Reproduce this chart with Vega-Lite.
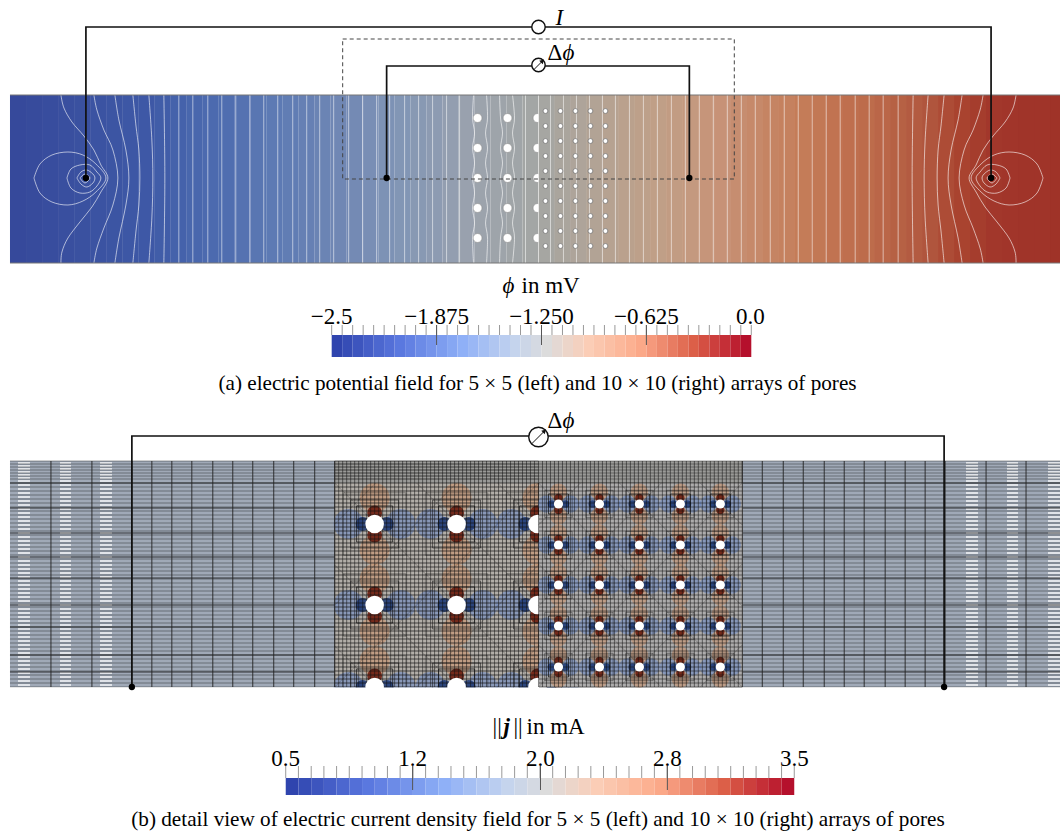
{"$schema":"https://vega.github.io/schema/vega-lite/v6.json","width":1061,"height":834,"padding":0,"autosize":{"type":"fit","contains":"padding"},"background":"white","config":{"view":{"stroke":null},"axis":{"disable":true}},
"datasets":{
"strips":[{"x":10,"x2":27,"p":-2.48},{"x":27,"x2":43,"p":-2.44},{"x":43,"x2":59,"p":-2.4},{"x":59,"x2":75,"p":-2.37},{"x":75,"x2":91,"p":-2.33},{"x":91,"x2":107,"p":-2.29},{"x":107,"x2":123,"p":-2.25},{"x":123,"x2":139,"p":-2.21},{"x":139,"x2":155,"p":-2.18},{"x":155,"x2":171,"p":-2.14},{"x":171,"x2":187,"p":-2.1},{"x":187,"x2":203,"p":-2.06},{"x":203,"x2":219,"p":-2.03},{"x":219,"x2":235,"p":-1.99},{"x":235,"x2":251,"p":-1.95},{"x":251,"x2":267,"p":-1.91},{"x":267,"x2":283,"p":-1.87},{"x":283,"x2":299,"p":-1.84},{"x":299,"x2":315,"p":-1.8},{"x":315,"x2":331,"p":-1.76},{"x":331,"x2":347,"p":-1.72},{"x":347,"x2":363,"p":-1.69},{"x":363,"x2":379,"p":-1.65},{"x":379,"x2":395,"p":-1.61},{"x":395,"x2":411,"p":-1.57},{"x":411,"x2":427,"p":-1.53},{"x":427,"x2":443,"p":-1.5},{"x":443,"x2":459,"p":-1.46},{"x":459,"x2":475,"p":-1.42},{"x":475,"x2":491,"p":-1.38},{"x":491,"x2":507,"p":-1.35},{"x":507,"x2":523,"p":-1.31},{"x":523,"x2":539,"p":-1.27},{"x":539,"x2":555,"p":-1.23},{"x":555,"x2":571,"p":-1.19},{"x":571,"x2":587,"p":-1.16},{"x":587,"x2":603,"p":-1.12},{"x":603,"x2":619,"p":-1.08},{"x":619,"x2":635,"p":-1.04},{"x":635,"x2":651,"p":-1},{"x":651,"x2":667,"p":-0.97},{"x":667,"x2":683,"p":-0.93},{"x":683,"x2":699,"p":-0.89},{"x":699,"x2":715,"p":-0.85},{"x":715,"x2":731,"p":-0.82},{"x":731,"x2":747,"p":-0.78},{"x":747,"x2":763,"p":-0.74},{"x":763,"x2":779,"p":-0.7},{"x":779,"x2":795,"p":-0.67},{"x":795,"x2":811,"p":-0.63},{"x":811,"x2":827,"p":-0.59},{"x":827,"x2":843,"p":-0.55},{"x":843,"x2":859,"p":-0.51},{"x":859,"x2":875,"p":-0.48},{"x":875,"x2":891,"p":-0.44},{"x":891,"x2":907,"p":-0.4},{"x":907,"x2":923,"p":-0.36},{"x":923,"x2":939,"p":-0.33},{"x":939,"x2":955,"p":-0.29},{"x":955,"x2":971,"p":-0.25},{"x":971,"x2":987,"p":-0.21},{"x":987,"x2":1003,"p":-0.17},{"x":1003,"x2":1019,"p":-0.14},{"x":1019,"x2":1035,"p":-0.1},{"x":1035,"x2":1051,"p":-0.06},{"x":1051,"x2":1061,"p":-0.02}],
"contours":[{"x":179},{"x":193},{"x":208},{"x":222},{"x":236},{"x":250},{"x":264},{"x":278},{"x":293},{"x":307},{"x":320},{"x":334},{"x":349},{"x":363},{"x":377},{"x":390},{"x":405},{"x":419},{"x":433},{"x":447},{"x":460},{"x":526},{"x":539},{"x":551},{"x":564},{"x":577},{"x":590},{"x":603},{"x":616},{"x":630},{"x":644},{"x":658},{"x":672},{"x":686},{"x":700},{"x":714},{"x":728},{"x":742},{"x":756},{"x":771},{"x":785},{"x":799},{"x":813},{"x":827},{"x":841},{"x":856},{"x":870},{"x":884},{"x":899}],
"curved":[
{"k":"a","x":61,"y":95},{"k":"a","x":64,"y":108},{"k":"a","x":72,"y":122},{"k":"a","x":84,"y":136},{"k":"a","x":94,"y":150},{"k":"a","x":101,"y":165},{"k":"a","x":108,"y":178},{"k":"a","x":101,"y":192},{"k":"a","x":92,"y":207},{"k":"a","x":80,"y":222},{"k":"a","x":68,"y":238},{"k":"a","x":62,"y":252},{"k":"a","x":61,"y":263},
{"k":"b","x":94,"y":95},{"k":"b","x":97,"y":110},{"k":"b","x":104,"y":130},{"k":"b","x":113,"y":150},{"k":"b","x":118,"y":178},{"k":"b","x":113,"y":205},{"k":"b","x":104,"y":228},{"k":"b","x":97,"y":248},{"k":"b","x":94,"y":263},
{"k":"c","x":115,"y":95},{"k":"c","x":119,"y":120},{"k":"c","x":126,"y":150},{"k":"c","x":129,"y":178},{"k":"c","x":126,"y":205},{"k":"c","x":119,"y":238},{"k":"c","x":115,"y":263},
{"k":"d","x":133,"y":95},{"k":"d","x":136,"y":125},{"k":"d","x":139,"y":150},{"k":"d","x":140,"y":178},{"k":"d","x":139,"y":205},{"k":"d","x":136,"y":232},{"k":"d","x":133,"y":263},
{"k":"e","x":149,"y":95},{"k":"e","x":152,"y":140},{"k":"e","x":153,"y":178},{"k":"e","x":152,"y":218},{"k":"e","x":149,"y":263},
{"k":"f","x":164,"y":95},{"k":"f","x":165,"y":178},{"k":"f","x":164,"y":263},
{"k":"g","x":34,"y":178},{"k":"g","x":40,"y":164},{"k":"g","x":52,"y":155},{"k":"g","x":68,"y":152},{"k":"g","x":83,"y":155},{"k":"g","x":96,"y":164},{"k":"g","x":106,"y":178},{"k":"g","x":96,"y":192},{"k":"g","x":83,"y":201},{"k":"g","x":68,"y":205},{"k":"g","x":52,"y":202},{"k":"g","x":40,"y":193},{"k":"g","x":34,"y":178},
{"k":"h","x":67,"y":178},{"k":"h","x":71,"y":169},{"k":"h","x":80,"y":165},{"k":"h","x":90,"y":165},{"k":"h","x":97,"y":172},{"k":"h","x":101,"y":178},{"k":"h","x":97,"y":186},{"k":"h","x":90,"y":192},{"k":"h","x":80,"y":193},{"k":"h","x":71,"y":188},{"k":"h","x":67,"y":178},
{"k":"i","x":77,"y":178},{"k":"i","x":81,"y":172},{"k":"i","x":87,"y":170},{"k":"i","x":93,"y":174},{"k":"i","x":95,"y":178},{"k":"i","x":93,"y":183},{"k":"i","x":87,"y":187},{"k":"i","x":81,"y":184},{"k":"i","x":77,"y":178},
{"k":"j","x":80,"y":178},{"k":"j","x":85,"y":174},{"k":"j","x":90,"y":178},{"k":"j","x":85,"y":183},{"k":"j","x":80,"y":178},
{"k":"A","x":1017,"y":95},{"k":"A","x":1014,"y":108},{"k":"A","x":1006,"y":122},{"k":"A","x":994,"y":136},{"k":"A","x":984,"y":150},{"k":"A","x":977,"y":165},{"k":"A","x":970,"y":178},{"k":"A","x":977,"y":192},{"k":"A","x":986,"y":207},{"k":"A","x":998,"y":222},{"k":"A","x":1010,"y":238},{"k":"A","x":1016,"y":252},{"k":"A","x":1017,"y":263},
{"k":"B","x":984,"y":95},{"k":"B","x":981,"y":110},{"k":"B","x":974,"y":130},{"k":"B","x":965,"y":150},{"k":"B","x":960,"y":178},{"k":"B","x":965,"y":205},{"k":"B","x":974,"y":228},{"k":"B","x":981,"y":248},{"k":"B","x":984,"y":263},
{"k":"C","x":963,"y":95},{"k":"C","x":959,"y":120},{"k":"C","x":952,"y":150},{"k":"C","x":949,"y":178},{"k":"C","x":952,"y":205},{"k":"C","x":959,"y":238},{"k":"C","x":963,"y":263},
{"k":"D","x":945,"y":95},{"k":"D","x":942,"y":125},{"k":"D","x":939,"y":150},{"k":"D","x":938,"y":178},{"k":"D","x":939,"y":205},{"k":"D","x":942,"y":232},{"k":"D","x":945,"y":263},
{"k":"E","x":929,"y":95},{"k":"E","x":926,"y":140},{"k":"E","x":925,"y":178},{"k":"E","x":926,"y":218},{"k":"E","x":929,"y":263},
{"k":"F","x":914,"y":95},{"k":"F","x":913,"y":178},{"k":"F","x":914,"y":263},
{"k":"G","x":1044,"y":178},{"k":"G","x":1038,"y":164},{"k":"G","x":1026,"y":155},{"k":"G","x":1010,"y":152},{"k":"G","x":995,"y":155},{"k":"G","x":982,"y":164},{"k":"G","x":972,"y":178},{"k":"G","x":982,"y":192},{"k":"G","x":995,"y":201},{"k":"G","x":1010,"y":205},{"k":"G","x":1026,"y":202},{"k":"G","x":1038,"y":193},{"k":"G","x":1044,"y":178},
{"k":"H","x":1011,"y":178},{"k":"H","x":1007,"y":169},{"k":"H","x":998,"y":165},{"k":"H","x":988,"y":165},{"k":"H","x":981,"y":172},{"k":"H","x":977,"y":178},{"k":"H","x":981,"y":186},{"k":"H","x":988,"y":192},{"k":"H","x":998,"y":193},{"k":"H","x":1007,"y":188},{"k":"H","x":1011,"y":178},
{"k":"I","x":1001,"y":178},{"k":"I","x":997,"y":172},{"k":"I","x":991,"y":170},{"k":"I","x":985,"y":174},{"k":"I","x":983,"y":178},{"k":"I","x":985,"y":183},{"k":"I","x":991,"y":187},{"k":"I","x":997,"y":184},{"k":"I","x":1001,"y":178},
{"k":"J","x":998,"y":178},{"k":"J","x":993,"y":174},{"k":"J","x":988,"y":178},{"k":"J","x":993,"y":183},{"k":"J","x":998,"y":178},
{"k":"m","x":474,"y":95},{"k":"m","x":473,"y":118},{"k":"m","x":475,"y":133},{"k":"m","x":473,"y":148},{"k":"m","x":475,"y":163},{"k":"m","x":473,"y":178},{"k":"m","x":475,"y":193},{"k":"m","x":473,"y":208},{"k":"m","x":475,"y":223},{"k":"m","x":473,"y":238},{"k":"m","x":474,"y":263},
{"k":"n","x":487,"y":95},{"k":"n","x":488,"y":118},{"k":"n","x":486,"y":133},{"k":"n","x":488,"y":148},{"k":"n","x":486,"y":163},{"k":"n","x":488,"y":178},{"k":"n","x":486,"y":193},{"k":"n","x":488,"y":208},{"k":"n","x":486,"y":223},{"k":"n","x":488,"y":238},{"k":"n","x":487,"y":263},
{"k":"o","x":500,"y":95},{"k":"o","x":501,"y":118},{"k":"o","x":503,"y":133},{"k":"o","x":501,"y":148},{"k":"o","x":503,"y":163},{"k":"o","x":501,"y":178},{"k":"o","x":503,"y":193},{"k":"o","x":501,"y":208},{"k":"o","x":503,"y":223},{"k":"o","x":501,"y":238},{"k":"o","x":500,"y":263},
{"k":"q","x":513,"y":95},{"k":"q","x":515,"y":118},{"k":"q","x":513,"y":133},{"k":"q","x":515,"y":148},{"k":"q","x":513,"y":163},{"k":"q","x":515,"y":178},{"k":"q","x":513,"y":193},{"k":"q","x":515,"y":208},{"k":"q","x":513,"y":223},{"k":"q","x":515,"y":238},{"k":"q","x":513,"y":263}],
"poresA":[{"x":478,"y":118},{"x":478,"y":148},{"x":478,"y":178},{"x":478,"y":208},{"x":478,"y":238},{"x":508,"y":118},{"x":508,"y":148},{"x":508,"y":178},{"x":508,"y":208},{"x":508,"y":238},{"x":538,"y":118},{"x":538,"y":148},{"x":538,"y":178},{"x":538,"y":208},{"x":538,"y":238}],
"poresa":[{"x":546,"y":111},{"x":561,"y":111},{"x":576,"y":111},{"x":591,"y":111},{"x":606,"y":111},{"x":546,"y":126},{"x":561,"y":126},{"x":576,"y":126},{"x":591,"y":126},{"x":606,"y":126},{"x":546,"y":141},{"x":561,"y":141},{"x":576,"y":141},{"x":591,"y":141},{"x":606,"y":141},{"x":546,"y":156},{"x":561,"y":156},{"x":576,"y":156},{"x":591,"y":156},{"x":606,"y":156},{"x":546,"y":171},{"x":561,"y":171},{"x":576,"y":171},{"x":591,"y":171},{"x":606,"y":171},{"x":546,"y":186},{"x":561,"y":186},{"x":576,"y":186},{"x":591,"y":186},{"x":606,"y":186},{"x":546,"y":201},{"x":561,"y":201},{"x":576,"y":201},{"x":591,"y":201},{"x":606,"y":201},{"x":546,"y":216},{"x":561,"y":216},{"x":576,"y":216},{"x":591,"y":216},{"x":606,"y":216},{"x":546,"y":231},{"x":561,"y":231},{"x":576,"y":231},{"x":591,"y":231},{"x":606,"y":231},{"x":546,"y":246},{"x":561,"y":246},{"x":576,"y":246},{"x":591,"y":246},{"x":606,"y":246}],
"wires":[{"k":"I","x":86,"y":178},{"k":"I","x":86,"y":27},{"k":"I","x":992,"y":27},{"k":"I","x":992,"y":178},{"k":"A","x":387,"y":178},{"k":"A","x":387,"y":66},{"k":"A","x":690,"y":66},{"k":"A","x":690,"y":178},{"k":"B","x":132,"y":687},{"k":"B","x":132,"y":436},{"k":"B","x":945,"y":436},{"k":"B","x":945,"y":687}],
"poresB":[{"x":375,"y":524},{"x":457,"y":524},{"x":538,"y":524},{"x":375,"y":605},{"x":457,"y":605},{"x":538,"y":605},{"x":375,"y":687},{"x":457,"y":687},{"x":538,"y":687}],
"poresb":[{"x":559,"y":504},{"x":600,"y":504},{"x":640,"y":504},{"x":681,"y":504},{"x":721,"y":504},{"x":559,"y":545},{"x":600,"y":545},{"x":640,"y":545},{"x":681,"y":545},{"x":721,"y":545},{"x":559,"y":585},{"x":600,"y":585},{"x":640,"y":585},{"x":681,"y":585},{"x":721,"y":585},{"x":559,"y":626},{"x":600,"y":626},{"x":640,"y":626},{"x":681,"y":626},{"x":721,"y":626},{"x":559,"y":667},{"x":600,"y":667},{"x":640,"y":667},{"x":681,"y":667},{"x":721,"y":667}],
"hy":[{"y":461},{"y":464},{"y":467},{"y":470},{"y":473},{"y":476},{"y":479},{"y":483},{"y":487},{"y":491},{"y":495},{"y":499},{"y":503},{"y":507},{"y":511},{"y":515},{"y":519},{"y":523},{"y":527},{"y":531},{"y":535},{"y":539},{"y":543},{"y":547},{"y":551},{"y":555},{"y":559},{"y":563},{"y":567},{"y":571},{"y":575},{"y":579},{"y":583},{"y":587},{"y":591},{"y":595},{"y":599},{"y":603},{"y":607},{"y":611},{"y":615},{"y":619},{"y":623},{"y":627},{"y":631},{"y":635},{"y":639},{"y":643},{"y":647},{"y":651},{"y":655},{"y":659},{"y":663},{"y":667},{"y":671},{"y":675},{"y":679},{"y":683},{"y":687}],
"hdark":[{"y":483},{"y":508},{"y":533},{"y":557},{"y":578},{"y":605},{"y":627},{"y":655},{"y":672}],
"vx":[{"x":51},{"x":92},{"x":132},{"x":152},{"x":172},{"x":192},{"x":213},{"x":233},{"x":253},{"x":274},{"x":294},{"x":315},{"x":335},{"x":743},{"x":763},{"x":784},{"x":804},{"x":825},{"x":845},{"x":865},{"x":886},{"x":906},{"x":926},{"x":946},{"x":987},{"x":1027}],
"gx":[{"x":335},{"x":339},{"x":343},{"x":347},{"x":351},{"x":355},{"x":359},{"x":363},{"x":367},{"x":371},{"x":375},{"x":379},{"x":383},{"x":387},{"x":391},{"x":395},{"x":399},{"x":403},{"x":407},{"x":411},{"x":415},{"x":419},{"x":423},{"x":427},{"x":431},{"x":435},{"x":439},{"x":443},{"x":447},{"x":451},{"x":455},{"x":459},{"x":463},{"x":467},{"x":471},{"x":475},{"x":479},{"x":483},{"x":487},{"x":491},{"x":495},{"x":499},{"x":503},{"x":507},{"x":511},{"x":515},{"x":519},{"x":523},{"x":527},{"x":531},{"x":535},{"x":539},{"x":543},{"x":547},{"x":551},{"x":555},{"x":559},{"x":563},{"x":567},{"x":571},{"x":575},{"x":579},{"x":583},{"x":587},{"x":591},{"x":595},{"x":599},{"x":603},{"x":607},{"x":611},{"x":615},{"x":619},{"x":623},{"x":627},{"x":631},{"x":635},{"x":639},{"x":643},{"x":647},{"x":651},{"x":655},{"x":659},{"x":663},{"x":667},{"x":671},{"x":675},{"x":679},{"x":683},{"x":687},{"x":691},{"x":695},{"x":699},{"x":703},{"x":707},{"x":711},{"x":715},{"x":719},{"x":723},{"x":727},{"x":731},{"x":735},{"x":739},{"x":743}],
"diagB":[{"k":"d1","x":335,"y":483},{"k":"d1","x":539,"y":687},{"k":"d2","x":417,"y":483},{"k":"d2","x":539,"y":605},{"k":"d3","x":498,"y":483},{"k":"d3","x":539,"y":524},{"k":"d4","x":335,"y":565},{"k":"d4","x":457,"y":687},{"k":"d5","x":335,"y":646},{"k":"d5","x":376,"y":687},{"k":"e1","x":539,"y":483},{"k":"e1","x":335,"y":687},{"k":"e2","x":457,"y":483},{"k":"e2","x":335,"y":605},{"k":"e3","x":376,"y":483},{"k":"e3","x":335,"y":524},{"k":"e4","x":539,"y":565},{"k":"e4","x":417,"y":687},{"k":"e5","x":539,"y":646},{"k":"e5","x":498,"y":687}],
"diagb":[{"k":"d1","x":539,"y":483},{"k":"d1","x":743,"y":687},{"k":"d2","x":620,"y":483},{"k":"d2","x":743,"y":606},{"k":"d3","x":701,"y":483},{"k":"d3","x":743,"y":525},{"k":"d4","x":539,"y":564},{"k":"d4","x":662,"y":687},{"k":"d5","x":539,"y":645},{"k":"d5","x":581,"y":687},{"k":"e1","x":743,"y":483},{"k":"e1","x":539,"y":687},{"k":"e2","x":662,"y":483},{"k":"e2","x":539,"y":606},{"k":"e3","x":581,"y":483},{"k":"e3","x":539,"y":525},{"k":"e4","x":743,"y":564},{"k":"e4","x":620,"y":687},{"k":"e5","x":743,"y":645},{"k":"e5","x":701,"y":687}],
"bar":[{"a0":332,"a1":342.5,"b0":286,"b1":298.7,"v":0},{"a0":342.5,"a1":353,"b0":298.7,"b1":311.5,"v":0.025},{"a0":353,"a1":363.5,"b0":311.5,"b1":324.2,"v":0.05},{"a0":363.5,"a1":374,"b0":324.2,"b1":336.9,"v":0.075},{"a0":374,"a1":384.5,"b0":336.9,"b1":349.6,"v":0.1},{"a0":384.5,"a1":395,"b0":349.6,"b1":362.4,"v":0.125},{"a0":395,"a1":405.5,"b0":362.4,"b1":375.1,"v":0.15},{"a0":405.5,"a1":416,"b0":375.1,"b1":387.8,"v":0.175},{"a0":416,"a1":426.5,"b0":387.8,"b1":400.5,"v":0.2},{"a0":426.5,"a1":437,"b0":400.5,"b1":413.3,"v":0.225},{"a0":437,"a1":447.5,"b0":413.3,"b1":426,"v":0.25},{"a0":447.5,"a1":458,"b0":426,"b1":438.7,"v":0.275},{"a0":458,"a1":468.5,"b0":438.7,"b1":451.4,"v":0.3},{"a0":468.5,"a1":479,"b0":451.4,"b1":464.2,"v":0.325},{"a0":479,"a1":489.5,"b0":464.2,"b1":476.9,"v":0.35},{"a0":489.5,"a1":500,"b0":476.9,"b1":489.6,"v":0.375},{"a0":500,"a1":510.5,"b0":489.6,"b1":502.3,"v":0.4},{"a0":510.5,"a1":521,"b0":502.3,"b1":515.1,"v":0.425},{"a0":521,"a1":531.5,"b0":515.1,"b1":527.8,"v":0.45},{"a0":531.5,"a1":542,"b0":527.8,"b1":540.5,"v":0.475},{"a0":542,"a1":552.5,"b0":540.5,"b1":553.2,"v":0.5},{"a0":552.5,"a1":563,"b0":553.2,"b1":566,"v":0.525},{"a0":563,"a1":573.5,"b0":566,"b1":578.7,"v":0.55},{"a0":573.5,"a1":584,"b0":578.7,"b1":591.4,"v":0.575},{"a0":584,"a1":594.5,"b0":591.4,"b1":604.1,"v":0.6},{"a0":594.5,"a1":605,"b0":604.1,"b1":616.9,"v":0.625},{"a0":605,"a1":615.5,"b0":616.9,"b1":629.6,"v":0.65},{"a0":615.5,"a1":626,"b0":629.6,"b1":642.3,"v":0.675},{"a0":626,"a1":636.5,"b0":642.3,"b1":655,"v":0.7},{"a0":636.5,"a1":647,"b0":655,"b1":667.8,"v":0.725},{"a0":647,"a1":657.5,"b0":667.8,"b1":680.5,"v":0.75},{"a0":657.5,"a1":668,"b0":680.5,"b1":693.2,"v":0.775},{"a0":668,"a1":678.5,"b0":693.2,"b1":705.9,"v":0.8},{"a0":678.5,"a1":689,"b0":705.9,"b1":718.7,"v":0.825},{"a0":689,"a1":699.5,"b0":718.7,"b1":731.4,"v":0.85},{"a0":699.5,"a1":710,"b0":731.4,"b1":744.1,"v":0.875},{"a0":710,"a1":720.5,"b0":744.1,"b1":756.8,"v":0.9},{"a0":720.5,"a1":731,"b0":756.8,"b1":769.6,"v":0.925},{"a0":731,"a1":741.5,"b0":769.6,"b1":782.3,"v":0.95},{"a0":741.5,"a1":752,"b0":782.3,"b1":795,"v":0.975},{"a0":752,"a1":752,"b0":795,"b1":795,"v":1}]
},
"layer":[
{"data":{"name":"strips"},"mark":{"type":"rect"},"encoding":{"x":{"field":"x","type":"quantitative","scale":{"domain":[0,1061],"nice":false,"zero":false}},"x2":{"field":"x2"},"y":{"datum":95,"scale":{"domain":[834,0],"nice":false,"zero":false}},"y2":{"datum":263},"color":{"field":"p","type":"quantitative","legend":null,"scale":{"interpolate":"rgb","domain":[-2.5,-2.17,-2.05,-1.86,-1.72,-1.58,-1.41,-1.25,-1.11,-0.96,-0.82,-0.63,-0.49,-0.35,-0.25,-0.16,-0.02],"range":["#35489a","#3e59a6","#4a68ae","#5e7bb4","#7087b4","#8195b5","#9aa2ae","#a4a6a4","#b3a394","#c19f86","#c79277","#c47c58","#be6d4c","#b25a40","#a9432f","#a1352a","#9f3328"]}}}},
{"data":{"name":"poresA"},"mark":{"type":"circle","size":80,"color":"white","opacity":1,"stroke":"#888","strokeWidth":0.6},"encoding":{"x":{"field":"x","type":"quantitative"},"y":{"field":"y","type":"quantitative"}}},
{"data":{"name":"strips"},"transform":[{"filter":"datum.x>=539"}],"mark":{"type":"rect"},"encoding":{"x":{"field":"x","type":"quantitative"},"x2":{"field":"x2"},"y":{"datum":95},"y2":{"datum":263},"color":{"field":"p","type":"quantitative","legend":null,"scale":{"interpolate":"rgb","domain":[-2.5,-2.17,-2.05,-1.86,-1.72,-1.58,-1.41,-1.25,-1.11,-0.96,-0.82,-0.63,-0.49,-0.35,-0.25,-0.16,-0.02],"range":["#35489a","#3e59a6","#4a68ae","#5e7bb4","#7087b4","#8195b5","#9aa2ae","#a4a6a4","#b3a394","#c19f86","#c79277","#c47c58","#be6d4c","#b25a40","#a9432f","#a1352a","#9f3328"]}}}},
{"data":{"name":"contours"},"mark":{"type":"rule","stroke":"#ffffff","strokeWidth":1,"strokeOpacity":0.55},"encoding":{"x":{"field":"x","type":"quantitative"},"y":{"datum":95},"y2":{"datum":263}}},
{"data":{"name":"curved"},"transform":[{"window":[{"op":"row_number","as":"i"}]}],"mark":{"type":"line","interpolate":"cardinal","stroke":"#ffffff","strokeWidth":1,"strokeOpacity":0.6},"encoding":{"x":{"field":"x","type":"quantitative"},"y":{"field":"y","type":"quantitative"},"detail":{"field":"k"},"order":{"field":"i","type":"quantitative"}}},
{"data":{"name":"poresa"},"mark":{"type":"circle","size":24,"color":"white","opacity":1,"stroke":"#777","strokeWidth":0.8},"encoding":{"x":{"field":"x","type":"quantitative"},"y":{"field":"y","type":"quantitative"}}},
{"data":{"values":[{"y":95},{"y":263}]},"mark":{"type":"rule","stroke":"#777","strokeWidth":1},"encoding":{"y":{"field":"y","type":"quantitative"},"x":{"datum":10},"x2":{"datum":1061}}},
{"data":{"values":[{"k":"r","x":343,"y":39},{"k":"r","x":735,"y":39},{"k":"r","x":735,"y":179},{"k":"r","x":343,"y":179},{"k":"r","x":343,"y":39}]},"transform":[{"window":[{"op":"row_number","as":"i"}]}],"mark":{"type":"line","stroke":"#444","strokeWidth":1,"strokeDash":[4,3]},"encoding":{"x":{"field":"x","type":"quantitative"},"y":{"field":"y","type":"quantitative"},"detail":{"field":"k"},"order":{"field":"i","type":"quantitative"}}},

{"data":{"values":[{"x":10,"x2":335},{"x":743,"x2":1061}]},"mark":{"type":"rect","color":"#a0a9b7"},"encoding":{"x":{"field":"x","type":"quantitative"},"x2":{"field":"x2"},"y":{"datum":461},"y2":{"datum":687}}},
{"data":{"values":[{"x":335,"x2":743}]},"mark":{"type":"rect","color":"#9a9a98"},"encoding":{"x":{"field":"x","type":"quantitative"},"x2":{"field":"x2"},"y":{"datum":461},"y2":{"datum":483}}},
{"data":{"values":[{"x":335,"x2":540}]},"mark":{"type":"rect","color":"#b2aea8"},"encoding":{"x":{"field":"x","type":"quantitative"},"x2":{"field":"x2"},"y":{"datum":483},"y2":{"datum":687}}},
{"data":{"name":"poresB"},"mark":{"type":"circle","size":900,"color":"#d08a58","opacity":0.45,"yOffset":-26},"encoding":{"x":{"field":"x","type":"quantitative"},"y":{"field":"y","type":"quantitative"}}},
{"data":{"name":"poresB"},"mark":{"type":"circle","size":900,"color":"#d08a58","opacity":0.45,"yOffset":26},"encoding":{"x":{"field":"x","type":"quantitative"},"y":{"field":"y","type":"quantitative"}}},
{"data":{"name":"poresB"},"mark":{"type":"circle","size":900,"color":"#5f82c8","opacity":0.5,"xOffset":-26},"encoding":{"x":{"field":"x","type":"quantitative"},"y":{"field":"y","type":"quantitative"}}},
{"data":{"name":"poresB"},"mark":{"type":"circle","size":900,"color":"#5f82c8","opacity":0.5,"xOffset":26},"encoding":{"x":{"field":"x","type":"quantitative"},"y":{"field":"y","type":"quantitative"}}},
{"data":{"name":"poresB"},"mark":{"type":"circle","size":200,"color":"#13306e","opacity":0.8,"xOffset":-12},"encoding":{"x":{"field":"x","type":"quantitative"},"y":{"field":"y","type":"quantitative"}}},
{"data":{"name":"poresB"},"mark":{"type":"circle","size":200,"color":"#13306e","opacity":0.8,"xOffset":12},"encoding":{"x":{"field":"x","type":"quantitative"},"y":{"field":"y","type":"quantitative"}}},
{"data":{"name":"poresB"},"mark":{"type":"circle","size":220,"color":"#6b1d0e","opacity":0.9,"yOffset":-11},"encoding":{"x":{"field":"x","type":"quantitative"},"y":{"field":"y","type":"quantitative"}}},
{"data":{"name":"poresB"},"mark":{"type":"circle","size":220,"color":"#6b1d0e","opacity":0.9,"yOffset":11},"encoding":{"x":{"field":"x","type":"quantitative"},"y":{"field":"y","type":"quantitative"}}},
{"data":{"name":"gx"},"transform":[{"filter":"datum.x<=539"}],"mark":{"type":"rule","stroke":"#111","strokeWidth":0.7,"strokeOpacity":0.75},"encoding":{"x":{"field":"x","type":"quantitative"},"y":{"datum":483},"y2":{"datum":687}}},
{"data":{"name":"gx"},"mark":{"type":"rule","stroke":"#1a1a1a","strokeWidth":0.7,"strokeOpacity":0.8},"encoding":{"x":{"field":"x","type":"quantitative"},"y":{"datum":461},"y2":{"datum":483}}},
{"data":{"name":"hy"},"mark":{"type":"rule","stroke":"#ffffff","strokeWidth":1.3,"strokeOpacity":0.9,"strokeDash":[0,8,12,30,11,29,12,854,12,29,11,30,12,100],"yOffset":2},"encoding":{"y":{"field":"y","type":"quantitative"},"x":{"datum":10},"x2":{"datum":1061}}},
{"data":{"name":"hy"},"mark":{"type":"rule","stroke":"#1a1a1a","strokeWidth":0.7,"strokeOpacity":0.6},"encoding":{"y":{"field":"y","type":"quantitative"},"x":{"datum":10},"x2":{"datum":1061}}},
{"data":{"name":"hy"},"mark":{"type":"rule","stroke":"#111","strokeWidth":0.7,"strokeOpacity":0.5},"encoding":{"y":{"field":"y","type":"quantitative"},"x":{"datum":335},"x2":{"datum":539}}},
{"data":{"name":"hdark"},"mark":{"type":"rule","stroke":"#111","strokeWidth":0.8},"encoding":{"y":{"field":"y","type":"quantitative"},"x":{"datum":10},"x2":{"datum":335}}},
{"data":{"name":"hdark"},"mark":{"type":"rule","stroke":"#111","strokeWidth":0.8},"encoding":{"y":{"field":"y","type":"quantitative"},"x":{"datum":743},"x2":{"datum":1061}}},
{"data":{"name":"vx"},"mark":{"type":"rule","stroke":"#222","strokeWidth":0.9},"encoding":{"x":{"field":"x","type":"quantitative"},"y":{"datum":461},"y2":{"datum":687}}},
{"data":{"name":"diagB"},"mark":{"type":"line","stroke":"#111","strokeWidth":0.8,"strokeOpacity":0.3},"encoding":{"x":{"field":"x","type":"quantitative"},"y":{"field":"y","type":"quantitative"},"detail":{"field":"k"}}},
{"data":{"name":"poresB"},"mark":{"type":"square","size":1300,"filled":false,"stroke":"#111","strokeWidth":0.8,"opacity":0.9},"encoding":{"x":{"field":"x","type":"quantitative"},"y":{"field":"y","type":"quantitative"}}},
{"data":{"name":"poresB"},"mark":{"type":"square","size":2300,"filled":false,"stroke":"#111","strokeWidth":0.8,"opacity":0.7},"encoding":{"x":{"field":"x","type":"quantitative"},"y":{"field":"y","type":"quantitative"}}},
{"data":{"name":"poresB"},"mark":{"type":"square","size":3900,"filled":false,"stroke":"#111","strokeWidth":0.7,"opacity":0.5},"encoding":{"x":{"field":"x","type":"quantitative"},"y":{"field":"y","type":"quantitative"}}},
{"data":{"name":"poresB"},"mark":{"type":"circle","size":346,"color":"white","opacity":1},"encoding":{"x":{"field":"x","type":"quantitative"},"y":{"field":"y","type":"quantitative"}}},
{"data":{"values":[{"x":0,"x2":1061}]},"mark":{"type":"rect","color":"white"},"encoding":{"x":{"field":"x","type":"quantitative"},"x2":{"field":"x2"},"y":{"datum":687.5},"y2":{"datum":745}}},
{"data":{"values":[{"x":539.5,"x2":743}]},"mark":{"type":"rect","color":"#adacac"},"encoding":{"x":{"field":"x","type":"quantitative"},"x2":{"field":"x2"},"y":{"datum":483},"y2":{"datum":687}}},
{"data":{"name":"poresb"},"mark":{"type":"circle","size":300,"color":"#d08a58","opacity":0.45,"yOffset":-12},"encoding":{"x":{"field":"x","type":"quantitative"},"y":{"field":"y","type":"quantitative"}}},
{"data":{"name":"poresb"},"mark":{"type":"circle","size":300,"color":"#d08a58","opacity":0.45,"yOffset":12},"encoding":{"x":{"field":"x","type":"quantitative"},"y":{"field":"y","type":"quantitative"}}},
{"data":{"name":"poresb"},"mark":{"type":"circle","size":300,"color":"#5f82c8","opacity":0.5,"xOffset":-12},"encoding":{"x":{"field":"x","type":"quantitative"},"y":{"field":"y","type":"quantitative"}}},
{"data":{"name":"poresb"},"mark":{"type":"circle","size":300,"color":"#5f82c8","opacity":0.5,"xOffset":12},"encoding":{"x":{"field":"x","type":"quantitative"},"y":{"field":"y","type":"quantitative"}}},
{"data":{"name":"poresb"},"mark":{"type":"circle","size":60,"color":"#13306e","opacity":0.8,"xOffset":-7},"encoding":{"x":{"field":"x","type":"quantitative"},"y":{"field":"y","type":"quantitative"}}},
{"data":{"name":"poresb"},"mark":{"type":"circle","size":60,"color":"#13306e","opacity":0.8,"xOffset":7},"encoding":{"x":{"field":"x","type":"quantitative"},"y":{"field":"y","type":"quantitative"}}},
{"data":{"name":"poresb"},"mark":{"type":"circle","size":70,"color":"#6b1d0e","opacity":0.9,"yOffset":-6},"encoding":{"x":{"field":"x","type":"quantitative"},"y":{"field":"y","type":"quantitative"}}},
{"data":{"name":"poresb"},"mark":{"type":"circle","size":70,"color":"#6b1d0e","opacity":0.9,"yOffset":6},"encoding":{"x":{"field":"x","type":"quantitative"},"y":{"field":"y","type":"quantitative"}}},
{"data":{"name":"gx"},"transform":[{"filter":"datum.x>=539"}],"mark":{"type":"rule","stroke":"#111","strokeWidth":0.7,"strokeOpacity":0.75},"encoding":{"x":{"field":"x","type":"quantitative"},"y":{"datum":483},"y2":{"datum":687}}},
{"data":{"name":"hy"},"transform":[{"filter":"datum.y>=483"}],"mark":{"type":"rule","stroke":"#111","strokeWidth":0.7,"strokeOpacity":0.75},"encoding":{"y":{"field":"y","type":"quantitative"},"x":{"datum":539.5},"x2":{"datum":743}}},
{"data":{"name":"diagb"},"mark":{"type":"line","stroke":"#111","strokeWidth":0.8,"strokeOpacity":0.3},"encoding":{"x":{"field":"x","type":"quantitative"},"y":{"field":"y","type":"quantitative"},"detail":{"field":"k"}}},
{"data":{"name":"poresb"},"mark":{"type":"square","size":400,"filled":false,"stroke":"#111","strokeWidth":0.8,"opacity":0.9},"encoding":{"x":{"field":"x","type":"quantitative"},"y":{"field":"y","type":"quantitative"}}},
{"data":{"name":"poresb"},"mark":{"type":"square","size":750,"filled":false,"stroke":"#111","strokeWidth":0.7,"opacity":0.6},"encoding":{"x":{"field":"x","type":"quantitative"},"y":{"field":"y","type":"quantitative"}}},
{"data":{"name":"poresb"},"mark":{"type":"circle","size":85,"color":"white","opacity":1},"encoding":{"x":{"field":"x","type":"quantitative"},"y":{"field":"y","type":"quantitative"}}},

{"data":{"name":"wires"},"mark":{"type":"line","stroke":"#111","strokeWidth":1.7},"encoding":{"x":{"field":"x","type":"quantitative"},"y":{"field":"y","type":"quantitative"},"detail":{"field":"k"}}},
{"data":{"values":[{"x":539,"y":27},{"x":539,"y":65}]},"mark":{"type":"circle","size":180,"color":"white","opacity":1,"stroke":"#111","strokeWidth":1.4},"encoding":{"x":{"field":"x","type":"quantitative"},"y":{"field":"y","type":"quantitative"}}},
{"data":{"values":[{"x":539,"y":437}]},"mark":{"type":"circle","size":380,"color":"white","opacity":1,"stroke":"#111","strokeWidth":1.4},"encoding":{"x":{"field":"x","type":"quantitative"},"y":{"field":"y","type":"quantitative"}}},
{"data":{"values":[{"k":"a","x":534,"y":70},{"k":"a","x":543,"y":61},{"k":"b","x":532,"y":444},{"k":"b","x":546,"y":430}]},"mark":{"type":"line","stroke":"#111","strokeWidth":1},"encoding":{"x":{"field":"x","type":"quantitative"},"y":{"field":"y","type":"quantitative"},"detail":{"field":"k"}}},
{"data":{"values":[{"x":543,"y":61},{"x":545,"y":431}]},"mark":{"type":"point","shape":"triangle-up","angle":45,"size":24,"filled":true,"color":"#111","opacity":1},"encoding":{"x":{"field":"x","type":"quantitative"},"y":{"field":"y","type":"quantitative"}}},
{"data":{"values":[{"x":86,"y":178},{"x":387,"y":178},{"x":690,"y":178},{"x":992,"y":178},{"x":132,"y":687},{"x":945,"y":687}]},"mark":{"type":"circle","size":40,"color":"#000","opacity":1},"encoding":{"x":{"field":"x","type":"quantitative"},"y":{"field":"y","type":"quantitative"}}},

{"data":{"name":"bar"},"mark":{"type":"rect"},"encoding":{"x":{"field":"a0","type":"quantitative"},"x2":{"field":"a1"},"y":{"datum":335},"y2":{"datum":357},"color":{"field":"v","type":"quantitative","legend":null,"scale":{"interpolate":"rgb","domain":[0,0.15,0.3,0.42,0.5,0.6,0.72,0.85,1],"range":["#2f44ae","#5a78df","#8fb0f7","#c3d3ee","#dcdcdc","#fbcdb6","#fcab8b","#dc5f48","#ad0026"]}}}},
{"data":{"name":"bar"},"mark":{"type":"rect"},"encoding":{"x":{"field":"b0","type":"quantitative"},"x2":{"field":"b1"},"y":{"datum":778},"y2":{"datum":795},"color":{"field":"v","type":"quantitative","legend":null,"scale":{"interpolate":"rgb","domain":[0,0.15,0.3,0.42,0.5,0.6,0.72,0.85,1],"range":["#2f44ae","#5a78df","#8fb0f7","#c3d3ee","#dcdcdc","#fbcdb6","#fcab8b","#dc5f48","#ad0026"]}}}},
{"data":{"name":"bar"},"mark":{"type":"rule","stroke":"#999","strokeWidth":1},"encoding":{"x":{"field":"a0","type":"quantitative"},"y":{"datum":325},"y2":{"datum":335}}},
{"data":{"name":"bar"},"mark":{"type":"rule","stroke":"#999","strokeWidth":1},"encoding":{"x":{"field":"b0","type":"quantitative"},"y":{"datum":766},"y2":{"datum":778}}},
{"data":{"values":[{"x":437},{"x":542},{"x":647}]},"mark":{"type":"rule","stroke":"#555","strokeWidth":1},"encoding":{"x":{"field":"x","type":"quantitative"},"y":{"datum":325},"y2":{"datum":345}}},
{"data":{"values":[{"x":413},{"x":541},{"x":668}]},"mark":{"type":"rule","stroke":"#555","strokeWidth":1},"encoding":{"x":{"field":"x","type":"quantitative"},"y":{"datum":766},"y2":{"datum":790}}},

{"data":{"values":[{"x":332,"y":317,"t":"−2.5"},{"x":437,"y":317,"t":"−1.875"},{"x":542,"y":317,"t":"−1.250"},{"x":647,"y":317,"t":"−0.625"},{"x":751,"y":317,"t":"0.0"},{"x":286,"y":759,"t":"0.5"},{"x":413,"y":759,"t":"1.2"},{"x":541,"y":759,"t":"2.0"},{"x":668,"y":759,"t":"2.8"},{"x":795,"y":759,"t":"3.5"}]},"mark":{"type":"text","font":"Liberation Serif","fontSize":23,"color":"#000"},"encoding":{"x":{"field":"x","type":"quantitative"},"y":{"field":"y","type":"quantitative"},"text":{"field":"t"}}},
{"data":{"values":[{"x":522,"y":286,"t":"in mV"},{"x":527,"y":727,"t":"in mA"}]},"mark":{"type":"text","font":"Liberation Serif","fontSize":23,"align":"left","color":"#000"},"encoding":{"x":{"field":"x","type":"quantitative"},"y":{"field":"y","type":"quantitative"},"text":{"field":"t"}}},
{"data":{"values":[{"x":548,"y":53,"t":"Δ"},{"x":548,"y":421,"t":"Δ"},{"x":493,"y":727,"t":"||"},{"x":514,"y":727,"t":"||"}]},"mark":{"type":"text","font":"Liberation Serif","fontSize":23,"align":"left","color":"#000"},"encoding":{"x":{"field":"x","type":"quantitative"},"y":{"field":"y","type":"quantitative"},"text":{"field":"t"}}},
{"data":{"values":[{"x":503,"y":286,"t":"ϕ"},{"x":563,"y":53,"t":"ϕ"},{"x":563,"y":421,"t":"ϕ"},{"x":556,"y":18,"t":"I"}]},"mark":{"type":"text","font":"Liberation Serif","fontSize":23,"fontStyle":"italic","align":"left","color":"#000"},"encoding":{"x":{"field":"x","type":"quantitative"},"y":{"field":"y","type":"quantitative"},"text":{"field":"t"}}},
{"data":{"values":[{"x":504,"y":727,"t":"j"}]},"mark":{"type":"text","font":"Liberation Serif","fontSize":23,"fontStyle":"italic","fontWeight":"bold","align":"left","color":"#000"},"encoding":{"x":{"field":"x","type":"quantitative"},"y":{"field":"y","type":"quantitative"},"text":{"field":"t"}}},
{"data":{"values":[{"x":538,"y":384,"t":"(a)  electric potential field for 5 × 5 (left) and 10 × 10 (right) arrays of pores"},{"x":538.5,"y":820,"t":"(b)  detail view of electric current density field for 5 × 5 (left) and 10 × 10 (right) arrays of pores"}]},"mark":{"type":"text","font":"Liberation Serif","fontSize":21.2,"color":"#000"},"encoding":{"x":{"field":"x","type":"quantitative"},"y":{"field":"y","type":"quantitative"},"text":{"field":"t"}}}
],
"resolve":{"scale":{"color":"independent"}}}
